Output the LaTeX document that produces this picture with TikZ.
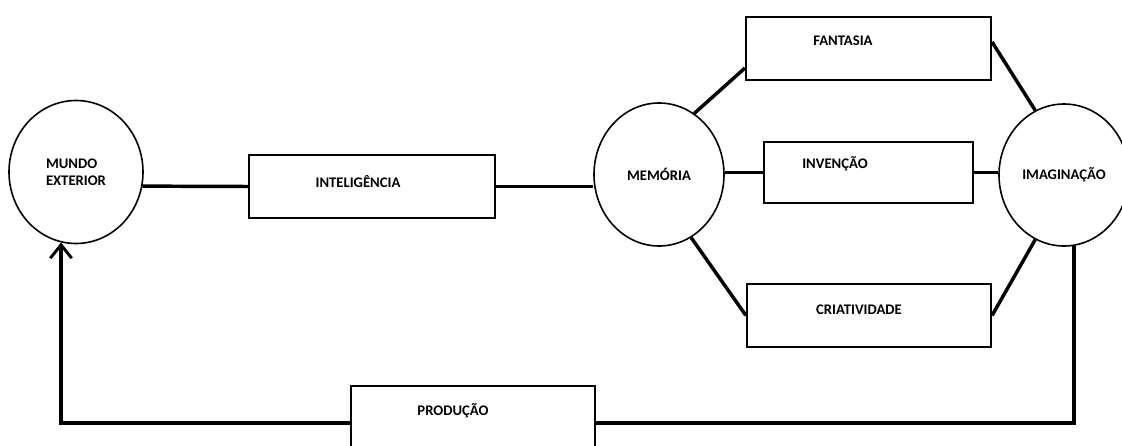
\documentclass[tikz,border=0pt]{standalone}
\usepackage{fontspec}
\setmainfont{Carlito}
\usetikzlibrary{shapes.geometric,arrows.meta,calc}
\begin{document}
\begin{tikzpicture}[x=0.75pt,y=-0.75pt,
  circ/.style={ellipse,draw,line width=1.2pt,inner sep=0pt,font=\fontsize{11}{12.75}\selectfont\bfseries},
  box/.style={rectangle,draw,line width=1.6pt,inner sep=0pt},
  txt/.style={font=\fontsize{11}{12.75}\selectfont\bfseries,inner sep=0pt},
  conn/.style={line width=2.6pt}]
\clip (0,0) rectangle (1122,446);
\useasboundingbox (0,0) rectangle (1122,446);
\fill[white] (0,0) rectangle (1122,446);
% circles
\node[circ,minimum width=100.5pt,minimum height=107.25pt,align=left] (mundo) at (76,172) {MUNDO\\EXTERIOR};
\node[circ,minimum width=97.5pt,minimum height=107.25pt] (mem) at (659,174.5) {MEMÓRIA};
\node[circ,minimum width=97.5pt,minimum height=106.5pt] (imag) at (1064,175) {IMAGINAÇÃO};
% boxes
\node[box,minimum width=184.5pt,minimum height=47.25pt,
  label={[txt,shift={(-14,-4.5)}]center:INTELIGÊNCIA}] (intel) at (372,186.5) {};
\node[box,minimum width=183.75pt,minimum height=47.25pt,
  label={[txt,shift={(-25.5,-7.5)}]center:FANTASIA}] (fant) at (868.5,48.5) {};
\node[box,minimum width=156.75pt,minimum height=45.75pt,
  label={[txt,shift={(-33.5,-8.5)}]center:INVENÇÃO}] (inv) at (868.5,172.5) {};
\node[box,minimum width=183pt,minimum height=47.25pt,
  label={[txt,shift={(-10,-5.5)}]center:CRIATIVIDADE}] (cria) at (869,315.5) {};
\node[box,minimum width=183pt,minimum height=55.5pt,
  label={[txt,shift={(-20,-12)}]center:PRODUÇÃO}] (prod) at (473,423) {};
% connectors
\draw[conn] (mundo.-12) -- (intel.west);
\draw[conn] (intel.east) -- (intel.east -| mem.west);
\draw[conn] (mem.60) -- ($(fant.south west)!0.2!(fant.north west)$);
\draw[conn] (inv.west) -- (inv.west -| mem.east);
\draw[conn] (mem.-63) -- (cria.west);
\draw[conn] ($(fant.north east)!0.4!(fant.south east)$) -- (imag.114);
\draw[conn] (inv.east) -- (inv.east -| imag.west);
\draw[conn] (cria.east) -- (imag.-114);
\draw[conn] (imag.-82) |- (prod.east);
\draw[conn,-{Straight Barb[length=10pt,width=16pt,line width=2.2pt]}] (prod.west) -| (mundo.-102);
\end{tikzpicture}
\end{document}
